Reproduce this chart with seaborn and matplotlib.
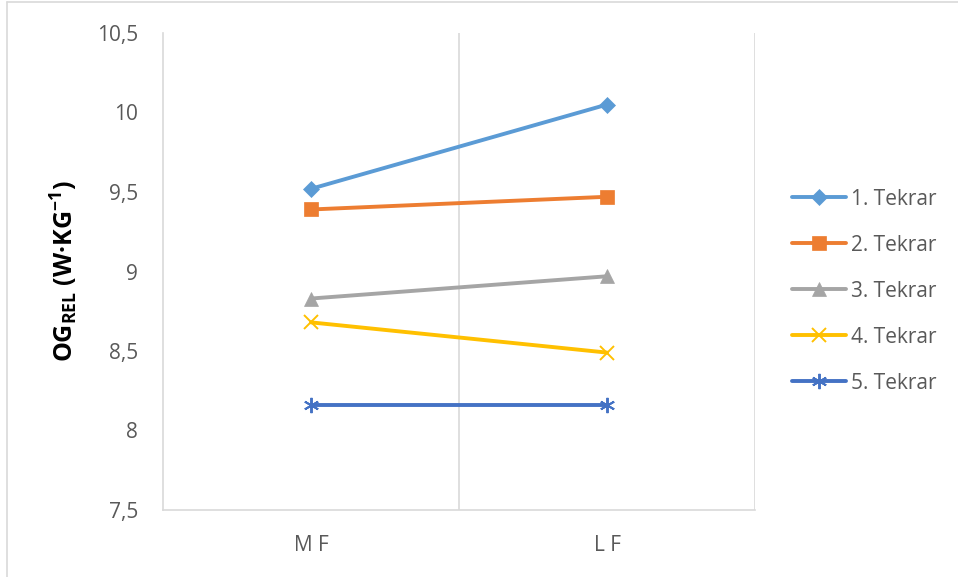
import matplotlib
matplotlib.use("Agg")
import matplotlib.pyplot as plt
from matplotlib.lines import Line2D
from matplotlib.ticker import FixedLocator, FuncFormatter
import seaborn as sns

# Measurement phases and repetition series
phases = ["M F", "L F"]
series_names = ["1. Tekrar", "2. Tekrar", "3. Tekrar", "4. Tekrar", "5. Tekrar"]
tekrar_1 = [9.52, 10.05]
tekrar_2 = [9.39, 9.47]
tekrar_3 = [8.83, 8.97]
tekrar_4 = [8.68, 8.49]
tekrar_5 = [8.16, 8.16]
y_ticks = [7.5, 8, 8.5, 9, 9.5, 10, 10.5]

values = [tekrar_1, tekrar_2, tekrar_3, tekrar_4, tekrar_5]
colors = ["#5B9BD5", "#ED7D31", "#A5A5A5", "#FFC000", "#4472C4"]
markers = ["D", "s", "^", "x", (6, 2, 0)]
msizes = [8, 10, 10, 10, 11]

sns.set_theme(style="white")
plt.rcParams["font.family"] = ["Open Sans", "DejaVu Sans"]
plt.rcParams["mathtext.default"] = "regular"

fig = plt.figure(figsize=(9.58, 5.77), dpi=100)
ax = fig.add_axes([163 / 958, 1 - 510 / 577, (755 - 163) / 958, (510 - 33) / 577])

xpos = list(range(len(phases)))
for name, vals, c, m, ms in zip(series_names, values, colors, markers, msizes):
    sns.lineplot(x=xpos, y=vals, ax=ax, color=c, marker=m, markersize=ms,
                 linewidth=2.8, label=name, markeredgecolor=c,
                 markeredgewidth=1.4 if m in ("x", (6, 2, 0)) else 0.5)

ax.set_xlim(-0.5, len(phases) - 0.5)
ax.set_ylim(7.5, 10.5)
ax.set_xticks(xpos)
ax.set_xticklabels(phases)
ax.yaxis.set_major_locator(FixedLocator(y_ticks))
ax.yaxis.set_major_formatter(FuncFormatter(lambda v, p: f"{v:g}".replace(".", ",")))
ax.tick_params(axis="both", length=0, labelsize=15, labelcolor="#595959")
ax.tick_params(axis="x", pad=18)
ax.tick_params(axis="y", pad=18)

# Category boundary gridlines
for xb in [0.5, 1.5]:
    ax.axvline(xb, color="#D9D9D9", linewidth=1.2, zorder=0)

for side in ["top", "right"]:
    ax.spines[side].set_visible(False)
for side in ["left", "bottom"]:
    ax.spines[side].set_color("#D9D9D9")
    ax.spines[side].set_linewidth(1.2)

ax.set_xlabel("")
ax.set_ylabel(r"OG$_{REL}$ (W·KG$^{-1}$)", fontsize=18, fontweight="bold",
              color="black", labelpad=12)

leg = ax.legend(loc="center left", bbox_to_anchor=(1.03, 0.459), frameon=False,
                fontsize=15, labelcolor="#595959", handlelength=2.6,
                labelspacing=1.2, handletextpad=0.25)

# Outer chart border
fig.add_artist(Line2D([7 / 958, 7 / 958], [0, 1 - 2 / 577], transform=fig.transFigure,
                      color="#D9D9D9", linewidth=1.2))
fig.add_artist(Line2D([7 / 958, 1], [1 - 2 / 577, 1 - 2 / 577], transform=fig.transFigure,
                      color="#D9D9D9", linewidth=1.2))

fig.savefig("out.png", dpi=100)
